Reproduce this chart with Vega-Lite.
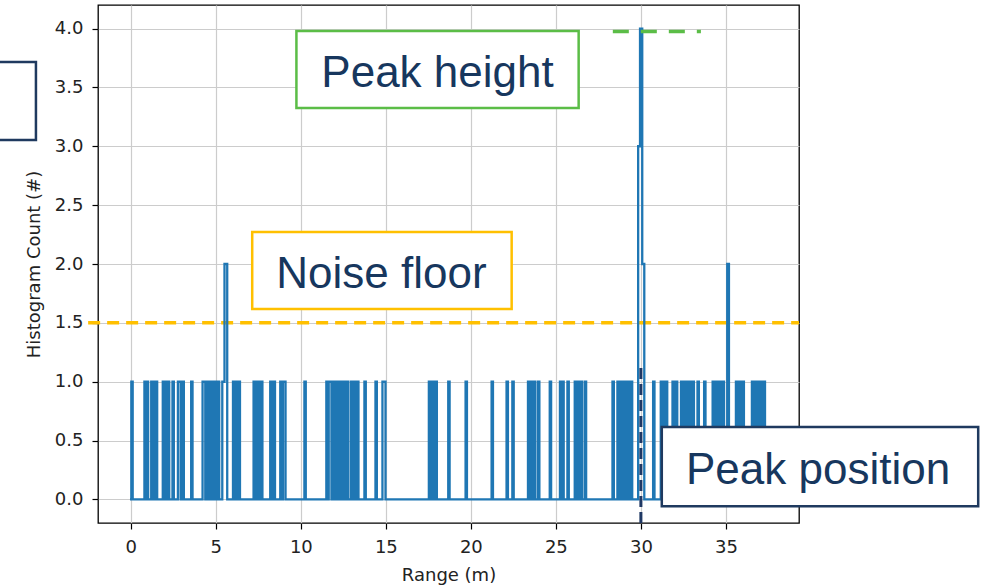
{
  "$schema": "https://vega.github.io/schema/vega-lite/v6.json",
  "autosize": "none",
  "width": 701,
  "height": 518,
  "padding": {"left": 98, "top": 5, "right": 190, "bottom": 64},
  "background": "white",
  "config": {
    "view": {"stroke": "#000000", "strokeWidth": 1.3},
    "axis": {
      "labelFont": "DejaVu Sans", "labelFontSize": 18, "labelColor": "#222222",
      "titleFont": "DejaVu Sans", "titleFontSize": 18, "titleFontWeight": "normal", "titleColor": "#222222",
      "tickColor": "#000000", "tickSize": 6, "tickWidth": 1.2,
      "gridColor": "#cccccc", "gridWidth": 1.2, "domain": false
    }
  },
  "datasets": {
    "hist": [
      {"x": -0.05, "y": 0},
      {"x": 0.03, "y": 1}, {"x": 0.11, "y": 0},
      {"x": 0.80, "y": 1}, {"x": 0.88, "y": 0},
      {"x": 0.94, "y": 1}, {"x": 1.02, "y": 0},
      {"x": 1.20, "y": 1}, {"x": 1.28, "y": 0},
      {"x": 1.33, "y": 1}, {"x": 1.41, "y": 0},
      {"x": 1.47, "y": 1}, {"x": 1.55, "y": 0},
      {"x": 1.88, "y": 1}, {"x": 1.96, "y": 0},
      {"x": 2.02, "y": 1}, {"x": 2.10, "y": 0},
      {"x": 2.18, "y": 1}, {"x": 2.26, "y": 0},
      {"x": 2.45, "y": 1}, {"x": 2.53, "y": 0},
      {"x": 2.77, "y": 1}, {"x": 2.93, "y": 0},
      {"x": 3.04, "y": 1}, {"x": 3.12, "y": 0},
      {"x": 3.55, "y": 1}, {"x": 3.63, "y": 0},
      {"x": 4.22, "y": 1}, {"x": 4.38, "y": 0},
      {"x": 4.51, "y": 1}, {"x": 4.59, "y": 0},
      {"x": 4.63, "y": 1}, {"x": 4.71, "y": 0},
      {"x": 4.77, "y": 1}, {"x": 4.85, "y": 0},
      {"x": 4.91, "y": 1}, {"x": 4.99, "y": 0},
      {"x": 5.02, "y": 1}, {"x": 5.10, "y": 0},
      {"x": 5.12, "y": 1}, {"x": 5.20, "y": 0},
      {"x": 5.38, "y": 1}, {"x": 5.51, "y": 2}, {"x": 5.67, "y": 0},
      {"x": 6.01, "y": 1}, {"x": 6.09, "y": 0},
      {"x": 6.14, "y": 1}, {"x": 6.22, "y": 0},
      {"x": 6.34, "y": 1}, {"x": 6.42, "y": 0},
      {"x": 7.22, "y": 1}, {"x": 7.30, "y": 0},
      {"x": 7.36, "y": 1}, {"x": 7.44, "y": 0},
      {"x": 7.51, "y": 1}, {"x": 7.59, "y": 0},
      {"x": 7.66, "y": 1}, {"x": 7.74, "y": 0},
      {"x": 8.20, "y": 1}, {"x": 8.28, "y": 0},
      {"x": 8.40, "y": 1}, {"x": 8.48, "y": 0},
      {"x": 8.79, "y": 1}, {"x": 8.87, "y": 0},
      {"x": 8.95, "y": 1}, {"x": 9.10, "y": 0},
      {"x": 10.21, "y": 1}, {"x": 10.29, "y": 0},
      {"x": 11.50, "y": 1}, {"x": 11.58, "y": 0},
      {"x": 11.64, "y": 1}, {"x": 11.80, "y": 0},
      {"x": 11.93, "y": 1}, {"x": 12.01, "y": 0},
      {"x": 12.13, "y": 1}, {"x": 12.21, "y": 0},
      {"x": 12.33, "y": 1}, {"x": 12.41, "y": 0},
      {"x": 12.52, "y": 1}, {"x": 12.60, "y": 0},
      {"x": 12.72, "y": 1}, {"x": 12.80, "y": 0},
      {"x": 12.96, "y": 1}, {"x": 13.04, "y": 0},
      {"x": 13.11, "y": 1}, {"x": 13.19, "y": 0},
      {"x": 13.31, "y": 1}, {"x": 13.39, "y": 0},
      {"x": 13.74, "y": 1}, {"x": 13.82, "y": 0},
      {"x": 14.39, "y": 1}, {"x": 14.47, "y": 0},
      {"x": 14.80, "y": 1}, {"x": 14.98, "y": 0},
      {"x": 17.53, "y": 1}, {"x": 17.61, "y": 0},
      {"x": 17.73, "y": 1}, {"x": 17.81, "y": 0},
      {"x": 17.92, "y": 1}, {"x": 18.00, "y": 0},
      {"x": 18.67, "y": 1}, {"x": 18.75, "y": 0},
      {"x": 19.69, "y": 1}, {"x": 19.77, "y": 0},
      {"x": 21.22, "y": 1}, {"x": 21.30, "y": 0},
      {"x": 22.10, "y": 1}, {"x": 22.18, "y": 0},
      {"x": 22.44, "y": 1}, {"x": 22.52, "y": 0},
      {"x": 23.36, "y": 1}, {"x": 23.44, "y": 0},
      {"x": 23.52, "y": 1}, {"x": 23.60, "y": 0},
      {"x": 23.71, "y": 1}, {"x": 23.79, "y": 0},
      {"x": 23.95, "y": 1}, {"x": 24.03, "y": 0},
      {"x": 24.64, "y": 1}, {"x": 24.72, "y": 0},
      {"x": 25.24, "y": 1}, {"x": 25.32, "y": 0},
      {"x": 25.38, "y": 1}, {"x": 25.46, "y": 0},
      {"x": 25.68, "y": 1}, {"x": 25.76, "y": 0},
      {"x": 26.11, "y": 1}, {"x": 26.19, "y": 0},
      {"x": 26.27, "y": 1}, {"x": 26.35, "y": 0},
      {"x": 26.46, "y": 1}, {"x": 26.54, "y": 0},
      {"x": 26.70, "y": 1}, {"x": 26.78, "y": 0},
      {"x": 28.33, "y": 1}, {"x": 28.41, "y": 0},
      {"x": 28.62, "y": 1}, {"x": 28.70, "y": 0},
      {"x": 28.82, "y": 1}, {"x": 28.90, "y": 0},
      {"x": 29.01, "y": 1}, {"x": 29.09, "y": 0},
      {"x": 29.21, "y": 1}, {"x": 29.29, "y": 0},
      {"x": 29.41, "y": 1}, {"x": 29.49, "y": 0},
      {"x": 29.84, "y": 3}, {"x": 29.95, "y": 4}, {"x": 30.08, "y": 2}, {"x": 30.20, "y": 0},
      {"x": 30.72, "y": 1}, {"x": 30.80, "y": 0},
      {"x": 31.17, "y": 1}, {"x": 31.25, "y": 0},
      {"x": 31.33, "y": 1}, {"x": 31.41, "y": 0},
      {"x": 31.47, "y": 1}, {"x": 31.55, "y": 0},
      {"x": 31.86, "y": 1}, {"x": 31.94, "y": 0},
      {"x": 32.06, "y": 1}, {"x": 32.14, "y": 0},
      {"x": 32.36, "y": 1}, {"x": 32.44, "y": 0},
      {"x": 32.54, "y": 1}, {"x": 32.62, "y": 0},
      {"x": 32.74, "y": 1}, {"x": 32.82, "y": 0},
      {"x": 32.90, "y": 1}, {"x": 32.98, "y": 0},
      {"x": 33.04, "y": 1}, {"x": 33.12, "y": 0},
      {"x": 33.33, "y": 1}, {"x": 33.41, "y": 0},
      {"x": 33.72, "y": 1}, {"x": 33.80, "y": 0},
      {"x": 34.22, "y": 1}, {"x": 34.30, "y": 0},
      {"x": 34.41, "y": 1}, {"x": 34.49, "y": 0},
      {"x": 34.61, "y": 1}, {"x": 34.69, "y": 0},
      {"x": 34.81, "y": 1}, {"x": 34.89, "y": 0},
      {"x": 35.08, "y": 2}, {"x": 35.18, "y": 0},
      {"x": 35.59, "y": 1}, {"x": 35.67, "y": 0},
      {"x": 35.78, "y": 1}, {"x": 35.86, "y": 0},
      {"x": 35.98, "y": 1}, {"x": 36.06, "y": 0},
      {"x": 36.53, "y": 1}, {"x": 36.61, "y": 0},
      {"x": 36.67, "y": 1}, {"x": 36.75, "y": 0},
      {"x": 36.87, "y": 1}, {"x": 36.95, "y": 0},
      {"x": 37.06, "y": 1}, {"x": 37.14, "y": 0},
      {"x": 37.22, "y": 1}, {"x": 37.30, "y": 0}
    ],
    "boxes": [
      {"name": "peakheight", "x1": 9.74, "x2": 26.34, "y1": 3.979, "y2": 3.325, "color": "#5BBD47"},
      {"name": "noise", "x1": 7.14, "x2": 22.40, "y1": 2.271, "y2": 1.617, "color": "#FFC000"},
      {"name": "peakpos", "x1": 31.23, "x2": 49.84, "y1": 0.615, "y2": -0.057, "color": "#1F3A5F"},
      {"name": "left", "x1": -8.0, "x2": -5.58, "y1": 3.716, "y2": 3.053, "color": "#1F3A5F"}
    ],
    "labels": [
      {"label": "Peak height", "x": 18.04, "y": 3.64},
      {"label": "Noise floor", "x": 14.74, "y": 1.93},
      {"label": "Peak position", "x": 40.42, "y": 0.265}
    ]
  },
  "encoding": {
    "x": {"field": "x", "type": "quantitative"},
    "y": {"field": "y", "type": "quantitative"}
  },
  "layer": [
    {
      "data": {"values": [{"x": -2.51, "x2": 39.3, "y": 1.5}]},
      "mark": {"type": "rule", "color": "#FFC000", "strokeWidth": 3.5, "strokeDash": [12, 7]},
      "encoding": {
        "x": {"field": "x", "type": "quantitative", "scale": {"domain": [-1.93, 39.3], "nice": false, "zero": false},
          "axis": {"title": "Range (m)", "values": [0, 5, 10, 15, 20, 25, 30, 35], "labelPadding": 9, "titlePadding": 10}},
        "x2": {"field": "x2"},
        "y": {"field": "y", "type": "quantitative", "scale": {"domain": [-0.2, 4.2], "nice": false, "zero": false},
          "axis": {"title": "Histogram Count (#)", "values": [0, 0.5, 1, 1.5, 2, 2.5, 3, 3.5, 4], "format": ".1f", "labelPadding": 9, "titlePadding": 11}}
      }
    },
    {
      "data": {"name": "hist"},
      "mark": {"type": "line", "interpolate": "step-after", "color": "#1f77b4", "strokeWidth": 2.3},
      "encoding": {
        "x": {"field": "x", "type": "quantitative"},
        "y": {"field": "y", "type": "quantitative"}
      }
    },
    {
      "data": {"values": [{"x": 30.0, "y": -0.2, "y2": 1.12}]},
      "mark": {"type": "rule", "color": "#1F3864", "strokeWidth": 3, "strokeDash": [11, 5]},
      "encoding": {
        "x": {"field": "x", "type": "quantitative"},
        "y": {"field": "y", "type": "quantitative"},
        "y2": {"field": "y2"}
      }
    },
    {
      "data": {"values": [{"x": 28.35, "x2": 33.53, "y": 3.975}]},
      "mark": {"type": "rule", "color": "#5BBD47", "strokeWidth": 3.5, "strokeDash": [16, 12]},
      "encoding": {
        "x": {"field": "x", "type": "quantitative"},
        "x2": {"field": "x2"},
        "y": {"field": "y", "type": "quantitative"}
      }
    },
    {
      "data": {"name": "boxes"},
      "mark": {"type": "rect", "fill": "white", "strokeWidth": 2.5},
      "encoding": {
        "x": {"field": "x1", "type": "quantitative"},
        "x2": {"field": "x2"},
        "y": {"field": "y1", "type": "quantitative"},
        "y2": {"field": "y2"},
        "stroke": {"field": "color", "type": "nominal", "scale": null}
      }
    },
    {
      "data": {"name": "labels"},
      "mark": {"type": "text", "font": "Liberation Sans", "fontSize": 44, "color": "#17375E", "align": "center", "baseline": "middle", "dy": 3},
      "encoding": {
        "x": {"field": "x", "type": "quantitative"},
        "y": {"field": "y", "type": "quantitative"},
        "text": {"field": "label"}
      }
    }
  ]
}
